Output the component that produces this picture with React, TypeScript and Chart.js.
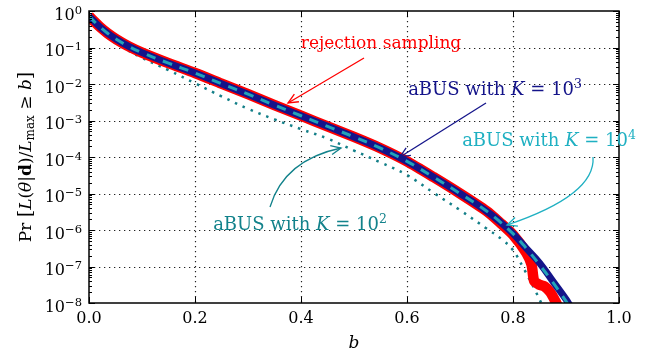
import React, { useEffect, useRef } from "react";
import { Chart, registerables } from "chart.js";

Chart.register(...registerables);

// ---- data: exceedance probability Pr[L/Lmax >= b] ----
const bK4 = [0, 0.01, 0.02, 0.035, 0.05, 0.075, 0.1, 0.15, 0.2, 0.25, 0.3, 0.35, 0.4, 0.45, 0.5, 0.55, 0.6, 0.65, 0.7, 0.75, 0.775, 0.8, 0.825, 0.85, 0.875, 0.9, 0.905];
const pK4 = [0.724, 0.513, 0.372, 0.245, 0.174, 0.107, 0.0724, 0.0372, 0.02, 0.0102, 5.25e-3, 2.63e-3, 1.35e-3, 6.92e-4, 3.55e-4, 1.74e-4, 7.59e-5, 2.82e-5, 1.0e-5, 3.31e-6, 1.7e-6, 7.94e-7, 3.16e-7, 1.12e-7, 3.72e-8, 1.12e-8, 8.7e-9];

const bK3 = [0, 0.01, 0.02, 0.035, 0.05, 0.075, 0.1, 0.15, 0.2, 0.25, 0.3, 0.35, 0.4, 0.45, 0.5, 0.55, 0.6, 0.65, 0.7, 0.75, 0.775, 0.8, 0.825, 0.85, 0.875, 0.9, 0.907];
const pK3 = [0.724, 0.513, 0.372, 0.245, 0.174, 0.107, 0.0724, 0.0372, 0.02, 0.0102, 5.25e-3, 2.63e-3, 1.35e-3, 6.92e-4, 3.55e-4, 1.74e-4, 7.59e-5, 2.82e-5, 1.0e-5, 3.31e-6, 1.7e-6, 7.94e-7, 3.16e-7, 1.26e-7, 3.98e-8, 1.26e-8, 8.7e-9];

const bRejection = [0, 0.01, 0.02, 0.035, 0.05, 0.075, 0.1, 0.15, 0.2, 0.25, 0.3, 0.35, 0.4, 0.45, 0.5, 0.55, 0.6, 0.65, 0.7, 0.75, 0.775, 0.8, 0.825, 0.835, 0.84, 0.85, 0.86, 0.87, 0.88, 0.885];
const pRejection = [0.724, 0.513, 0.372, 0.245, 0.174, 0.107, 0.0724, 0.0372, 0.02, 0.0102, 5.25e-3, 2.63e-3, 1.35e-3, 6.92e-4, 3.55e-4, 1.74e-4, 7.59e-5, 2.82e-5, 1.0e-5, 3.31e-6, 1.62e-6, 7.41e-7, 2.4e-7, 1.12e-7, 3.98e-8, 3.16e-8, 2.82e-8, 2.0e-8, 1.12e-8, 7.9e-9];

const bK2 = [0, 0.02, 0.04, 0.07, 0.1, 0.15, 0.2, 0.25, 0.3, 0.35, 0.4, 0.45, 0.5, 0.55, 0.6, 0.65, 0.7, 0.75, 0.78, 0.8, 0.82, 0.84, 0.855];
const pK2 = [0.63, 0.31, 0.166, 0.089, 0.052, 0.024, 0.0105, 4.6e-3, 2.1e-3, 1.07e-3, 5.8e-4, 3.2e-4, 1.5e-4, 7.1e-5, 3.2e-5, 1.05e-5, 3.5e-6, 1.1e-6, 5.4e-7, 2.8e-7, 8.9e-8, 2.5e-8, 8.9e-9];

const xTicks = [0, 0.2, 0.4, 0.6, 0.8, 1.0];
const xTickLabels = ["0.0", "0.2", "0.4", "0.6", "0.8", "1.0"];
const yExponents = [0, -1, -2, -3, -4, -5, -6, -7, -8];

const RED = "#ff0000";
const NAVY = "#14148a";
const CYAN = "#22a3b8";
const TEAL = "#137f88";
const CYAN_TEXT = "#1fb0c2";
const TEAL_TEXT = "#12828b";

const SERIF = '"DejaVu Serif", "Liberation Serif", serif';

type Seg = { t: string; size: number; style?: string; weight?: string; dy?: number };

function segFont(s: Seg) {
  return `${s.style || "normal"} ${s.weight || "normal"} ${s.size}px ${SERIF}`;
}

function richWidth(ctx: CanvasRenderingContext2D, segs: Seg[]) {
  let w = 0;
  for (const s of segs) {
    ctx.font = segFont(s);
    w += ctx.measureText(s.t).width;
  }
  return w;
}

function drawRich(ctx: CanvasRenderingContext2D, segs: Seg[], x: number, y: number, align: "left" | "center" | "right", color: string) {
  const w = richWidth(ctx, segs);
  let cx = align === "left" ? x : align === "center" ? x - w / 2 : x - w;
  ctx.fillStyle = color;
  ctx.textAlign = "left";
  ctx.textBaseline = "alphabetic";
  for (const s of segs) {
    ctx.font = segFont(s);
    ctx.fillText(s.t, cx, y + (s.dy || 0));
    cx += ctx.measureText(s.t).width;
  }
}

function drawArrow(ctx: CanvasRenderingContext2D, x0: number, y0: number, x1: number, y1: number, color: string, cx?: number, cy?: number) {
  ctx.save();
  ctx.strokeStyle = color;
  ctx.lineWidth = 1.3;
  ctx.setLineDash([]);
  ctx.beginPath();
  ctx.moveTo(x0, y0);
  let tx: number, ty: number;
  if (cx !== undefined && cy !== undefined) {
    ctx.quadraticCurveTo(cx, cy, x1, y1);
    tx = x1 - cx;
    ty = y1 - cy;
  } else {
    ctx.lineTo(x1, y1);
    tx = x1 - x0;
    ty = y1 - y0;
  }
  ctx.stroke();
  const a = Math.atan2(ty, tx);
  const len = 11;
  const spread = 0.42;
  ctx.beginPath();
  ctx.moveTo(x1 - len * Math.cos(a - spread), y1 - len * Math.sin(a - spread));
  ctx.lineTo(x1, y1);
  ctx.lineTo(x1 - len * Math.cos(a + spread), y1 - len * Math.sin(a + spread));
  ctx.stroke();
  ctx.restore();
}

function abusLabel(exp: string): Seg[] {
  return [
    { t: "aBUS with ", size: 18 },
    { t: "K", size: 18, style: "italic" },
    { t: " = 10", size: 18 },
    { t: exp, size: 12.5, dy: -7.5 },
  ];
}

const gridPlugin = {
  id: "dottedGrid",
  beforeDatasetsDraw(chart: any) {
    const { ctx, chartArea: a, scales } = chart;
    const xs = scales.x;
    const ys = scales.y;
    ctx.save();
    ctx.strokeStyle = "#222";
    ctx.lineWidth = 1.2;
    ctx.setLineDash([1.3, 3.7]);
    for (const v of xTicks.slice(1, -1)) {
      const px = Math.round(xs.getPixelForValue(v)) + 0.5;
      ctx.beginPath();
      ctx.moveTo(px, a.top);
      ctx.lineTo(px, a.bottom);
      ctx.stroke();
    }
    for (const e of yExponents.slice(1, -1)) {
      const py = Math.round(ys.getPixelForValue(Math.pow(10, e))) + 0.5;
      ctx.beginPath();
      ctx.moveTo(a.left, py);
      ctx.lineTo(a.right, py);
      ctx.stroke();
    }
    ctx.restore();
  },
};

const framePlugin = {
  id: "frameAndText",
  afterDatasetsDraw(chart: any) {
    const { ctx, chartArea: a, scales } = chart;
    const xs = scales.x;
    const ys = scales.y;
    ctx.save();
    ctx.setLineDash([]);
    ctx.strokeStyle = "#000";

    // ticks
    ctx.lineWidth = 1;
    for (const v of xTicks) {
      const px = Math.round(xs.getPixelForValue(v)) + 0.5;
      ctx.beginPath();
      ctx.moveTo(px, a.bottom);
      ctx.lineTo(px, a.bottom - 6);
      ctx.moveTo(px, a.top);
      ctx.lineTo(px, a.top + 6);
      ctx.stroke();
    }
    for (const e of yExponents) {
      const py = Math.round(ys.getPixelForValue(Math.pow(10, e))) + 0.5;
      ctx.beginPath();
      ctx.moveTo(a.left, py);
      ctx.lineTo(a.left + 6, py);
      ctx.moveTo(a.right, py);
      ctx.lineTo(a.right - 6, py);
      ctx.stroke();
      if (e > -8) {
        for (let k = 2; k <= 9; k++) {
          const pm = Math.round(ys.getPixelForValue(k * Math.pow(10, e - 1))) + 0.5;
          ctx.beginPath();
          ctx.moveTo(a.left, pm);
          ctx.lineTo(a.left + 3, pm);
          ctx.moveTo(a.right, pm);
          ctx.lineTo(a.right - 3, pm);
          ctx.stroke();
        }
      }
    }

    // frame
    ctx.lineWidth = 1.5;
    ctx.strokeRect(a.left, a.top, a.right - a.left, a.bottom - a.top);

    // x tick labels
    ctx.fillStyle = "#000";
    ctx.font = `16px ${SERIF}`;
    ctx.textAlign = "center";
    ctx.textBaseline = "alphabetic";
    xTicks.forEach((v, i) => {
      ctx.fillText(xTickLabels[i], xs.getPixelForValue(v), a.bottom + 20);
    });

    // y tick labels 10^e
    for (const e of yExponents) {
      const py = ys.getPixelForValue(Math.pow(10, e));
      const expText = e === 0 ? "0" : "\u2212" + String(-e);
      drawRich(
        ctx,
        [
          { t: "10", size: 16, dy: 8.5 },
          { t: expText, size: 11.5, dy: 2.5 },
        ],
        a.left - 7,
        py,
        "right",
        "#000"
      );
    }

    // x axis title
    drawRich(ctx, [{ t: "b", size: 17, style: "italic" }], (a.left + a.right) / 2, a.bottom + 45, "center", "#000");

    // y axis title
    ctx.save();
    ctx.translate(31, (a.top + a.bottom) / 2);
    ctx.rotate(-Math.PI / 2);
    drawRich(
      ctx,
      [
        { t: "Pr ", size: 17 },
        { t: "[", size: 19 },
        { t: "L", size: 17, style: "italic" },
        { t: "(", size: 17 },
        { t: "\u03B8", size: 17, style: "italic" },
        { t: "|", size: 17 },
        { t: "d", size: 17, weight: "bold" },
        { t: ")/", size: 17 },
        { t: "L", size: 17, style: "italic" },
        { t: "max", size: 12, dy: 3 },
        { t: " \u2265 ", size: 17 },
        { t: "b", size: 17, style: "italic" },
        { t: "]", size: 19 },
      ],
      0,
      0,
      "center",
      "#000"
    );
    ctx.restore();

    // annotations
    drawRich(ctx, [{ t: "rejection sampling", size: 17 }], 381, 48, "center", RED);
    drawArrow(ctx, 364, 58, 288, 103, RED);

    drawRich(ctx, abusLabel("3"), 495, 95, "center", NAVY);
    drawArrow(ctx, 486, 103, 400, 157, NAVY);

    drawRich(ctx, abusLabel("4"), 549, 146, "center", CYAN_TEXT);
    drawArrow(ctx, 593, 157, 507, 225, CYAN_TEXT, 596, 195);

    drawRich(ctx, abusLabel("2"), 300, 230, "center", TEAL_TEXT);
    drawArrow(ctx, 270, 207, 341, 148, TEAL_TEXT, 284, 160);

    ctx.restore();
  },
};

function pts(bs: number[], ps: number[]) {
  return bs.map((b, i) => ({ x: b, y: ps[i] }));
}

export default function App() {
  const ref = useRef<HTMLCanvasElement>(null);

  useEffect(() => {
    const canvas = ref.current;
    if (!canvas) return;
    const common = {
      pointRadius: 0,
      fill: false,
      tension: 0.4,
      clip: 0,
    };
    const chart = new Chart(canvas, {
      type: "line",
      data: {
        datasets: [
          {
            ...common,
            label: "aBUS with K = 10^4",
            data: pts(bK4, pK4),
            borderColor: CYAN,
            borderWidth: 3,
            borderDash: [9.5, 8],
            borderCapStyle: "butt",
            order: 0,
          },
          {
            ...common,
            label: "aBUS with K = 10^3",
            data: pts(bK3, pK3),
            borderColor: NAVY,
            borderWidth: 7,
            order: 1,
          },
          {
            ...common,
            label: "rejection sampling",
            data: pts(bRejection, pRejection),
            borderColor: RED,
            borderWidth: 10.5,
            tension: 0.25,
            order: 2,
          },
          {
            ...common,
            label: "aBUS with K = 10^2",
            data: pts(bK2, pK2),
            borderColor: TEAL,
            borderWidth: 2.5,
            borderDash: [2.5, 6],
            borderCapStyle: "butt",
            order: 3,
          },
        ],
      },
      options: {
        responsive: false,
        animation: false,
        devicePixelRatio: 1,
        events: [],
        layout: { padding: { left: 89, right: 41, top: 11, bottom: 55 } },
        scales: {
          x: { type: "linear", min: 0, max: 1, display: false },
          y: { type: "logarithmic", min: 1e-8, max: 1, display: false },
        },
        plugins: {
          legend: { display: false },
          tooltip: { enabled: false },
        },
      },
      plugins: [gridPlugin, framePlugin],
    } as any);
    return () => chart.destroy();
  }, []);

  return (
    <div style={{ position: "fixed", left: 0, top: 0, width: 660, height: 358, background: "#fff" }}>
      <canvas ref={ref} width={660} height={358} style={{ display: "block" }} />
    </div>
  );
}
